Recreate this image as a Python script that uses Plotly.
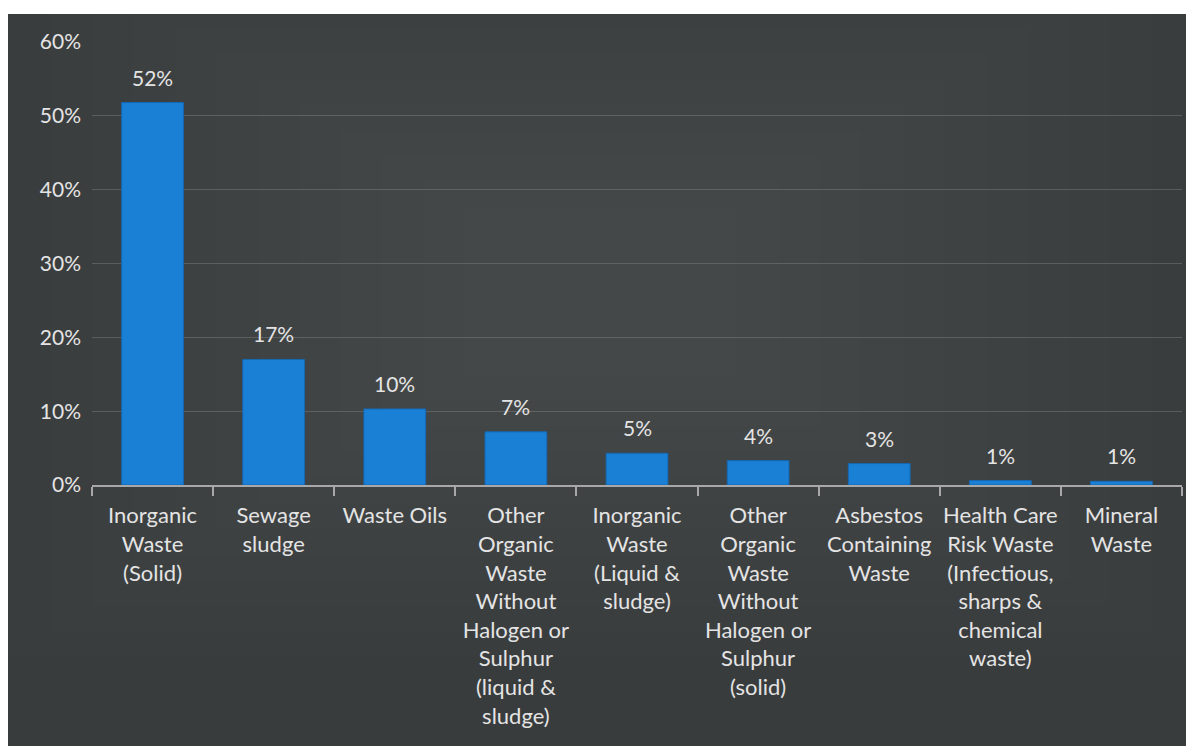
import plotly.graph_objects as go

categories = [
    "Inorganic<br>Waste<br>(Solid)",
    "Sewage<br>sludge",
    "Waste Oils",
    "Other<br>Organic<br>Waste<br>Without<br>Halogen or<br>Sulphur<br>(liquid &<br>sludge)",
    "Inorganic<br>Waste<br>(Liquid &<br>sludge)",
    "Other<br>Organic<br>Waste<br>Without<br>Halogen or<br>Sulphur<br>(solid)",
    "Asbestos<br>Containing<br>Waste",
    "Health Care<br>Risk Waste<br>(Infectious,<br>sharps &<br>chemical<br>waste)",
    "Mineral<br>Waste",
]
values = [0.518, 0.170, 0.103, 0.072, 0.043, 0.033, 0.029, 0.006, 0.005]
value_labels = ["52%", "17%", "10%", "7%", "5%", "4%", "3%", "1%", "1%"]
y_ticks = [0, 0.1, 0.2, 0.3, 0.4, 0.5, 0.6]
y_tick_labels = ["0%", "10%", "20%", "30%", "40%", "50%", "60%"]

FONT = "Lato"
TXT = "#e4e4e4"
FS = 21

W, H = 1186, 738
L, R, T, B = 84, 12, 34, 261
PW, PH = W - L - R, H - T - B

fig = go.Figure()
fig.add_trace(go.Bar(
    x=categories, y=values,
    marker=dict(color="#1a80d6", line=dict(color="#1468b3", width=1)),
    hoverinfo="skip",
))

X0, X1 = -L / PW, 1 + R / PW
Y0, Y1 = -B / PH, 1 + (T - 6) / PH
shapes = [dict(type="rect", xref="paper", yref="paper", layer="below",
               x0=X0, x1=X1, y0=Y0, y1=Y1,
               fillcolor="#393c3d", line=dict(width=0))]
# soft central glow
cx, cy = (X0 + X1) / 2, (Y0 + Y1) / 2 + 0.2
for i in range(12):
    f = 1 - i * 0.07
    hw = (X1 - X0) / 2 * f
    hh = (Y1 - Y0) / 2 * f
    shapes.append(dict(type="rect", xref="paper", yref="paper", layer="below",
                       x0=cx - hw, x1=cx + hw, y0=max(Y0, cy - hh), y1=min(Y1, cy + hh),
                       fillcolor="white", opacity=0.008, line=dict(width=0)))

annotations = [dict(x=c, y=v, text=t, xref="x", yref="y", showarrow=False,
                    yanchor="bottom", yshift=11,
                    font=dict(family=FONT, size=FS, color=TXT))
               for c, v, t in zip(categories, values, value_labels)]

fig.update_layout(
    width=W, height=H,
    margin=dict(l=L, r=R, t=T, b=B),
    paper_bgcolor="white",
    plot_bgcolor="rgba(0,0,0,0)",
    showlegend=False,
    bargap=0.49,
    shapes=shapes,
    annotations=annotations,
    font=dict(family=FONT, size=FS, color=TXT),
)
fig.update_xaxes(
    showline=True, linecolor="#a8a8a8", linewidth=2,
    ticks="outside", tickson="boundaries", ticklen=9, tickcolor="#a8a8a8", tickwidth=2,
    showgrid=False,
    tickfont=dict(family=FONT, size=22, color=TXT),
    tickangle=0, ticklabelstandoff=10,
)
fig.update_yaxes(
    range=[0, 0.6], tickvals=y_ticks, ticktext=y_tick_labels,
    showgrid=True, gridcolor="rgba(150,150,150,0.35)", gridwidth=1,
    zeroline=False, showline=False,
    tickfont=dict(family=FONT, size=FS, color=TXT),
    ticklabelstandoff=10,
)

fig.write_html("out.html")
